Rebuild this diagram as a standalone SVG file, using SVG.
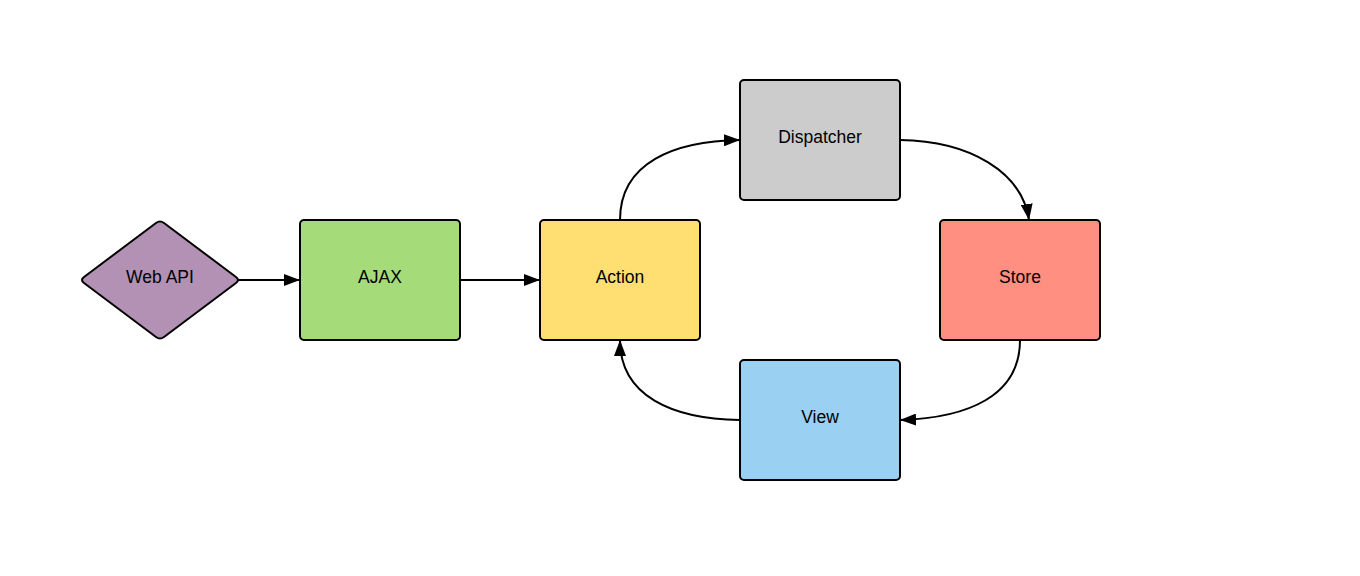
<svg xmlns="http://www.w3.org/2000/svg" width="1360" height="576" viewBox="0 0 1360 576">
<defs>
<marker id="arr" viewBox="0 0 16 12" refX="16" refY="6" markerWidth="16" markerHeight="12" markerUnits="userSpaceOnUse" orient="auto">
<path d="M0,0 L16,6 L0,12 Z" fill="#000"/>
</marker>
</defs>
<style>
.box{stroke:#000;stroke-width:2}
.lbl{font-family:"Liberation Sans",Arial,sans-serif;font-size:17.5px;fill:#000;text-anchor:middle;dominant-baseline:central}
.edge{fill:none;stroke:#000;stroke-width:2;marker-end:url(#arr)}
</style>
<rect width="1360" height="576" fill="#fff"/>
<g id="connectors">
<path class="edge" d="M238,280 L300,280"/>
<path class="edge" d="M460,280 L540,280"/>
<path class="edge" d="M620,220 C620,162 675,141 740,140"/>
<path class="edge" d="M900,140 C970,141 1022,172 1029,220"/>
<path class="edge" d="M1020,340 C1020,396 968,418 900,420"/>
<path class="edge" d="M740,420 C672,419 620,396 620,340"/>
</g>
<g id="webapi">
<path class="box" fill="#b391b5" d="M156,223 Q160,220 164,223 L236,277 Q240,280 236,283 L164,337 Q160,340 156,337 L84,283 Q80,280 84,277 Z"/>
<text class="lbl" x="160" y="277">Web API</text>
</g>
<g id="ajax">
<rect class="box" x="300" y="220" width="160" height="120" rx="4" fill="#a6db7a"/>
<text class="lbl" x="380" y="277">AJAX</text>
</g>
<g id="action">
<rect class="box" x="540" y="220" width="160" height="120" rx="4" fill="#ffdf71"/>
<text class="lbl" x="620" y="277">Action</text>
</g>
<g id="dispatcher">
<rect class="box" x="740" y="80" width="160" height="120" rx="4" fill="#cccccc"/>
<text class="lbl" x="820" y="137">Dispatcher</text>
</g>
<g id="store">
<rect class="box" x="940" y="220" width="160" height="120" rx="4" fill="#ff8f80"/>
<text class="lbl" x="1020" y="277">Store</text>
</g>
<g id="view">
<rect class="box" x="740" y="360" width="160" height="120" rx="4" fill="#9ad0f2"/>
<text class="lbl" x="820" y="417">View</text>
</g>
</svg>
